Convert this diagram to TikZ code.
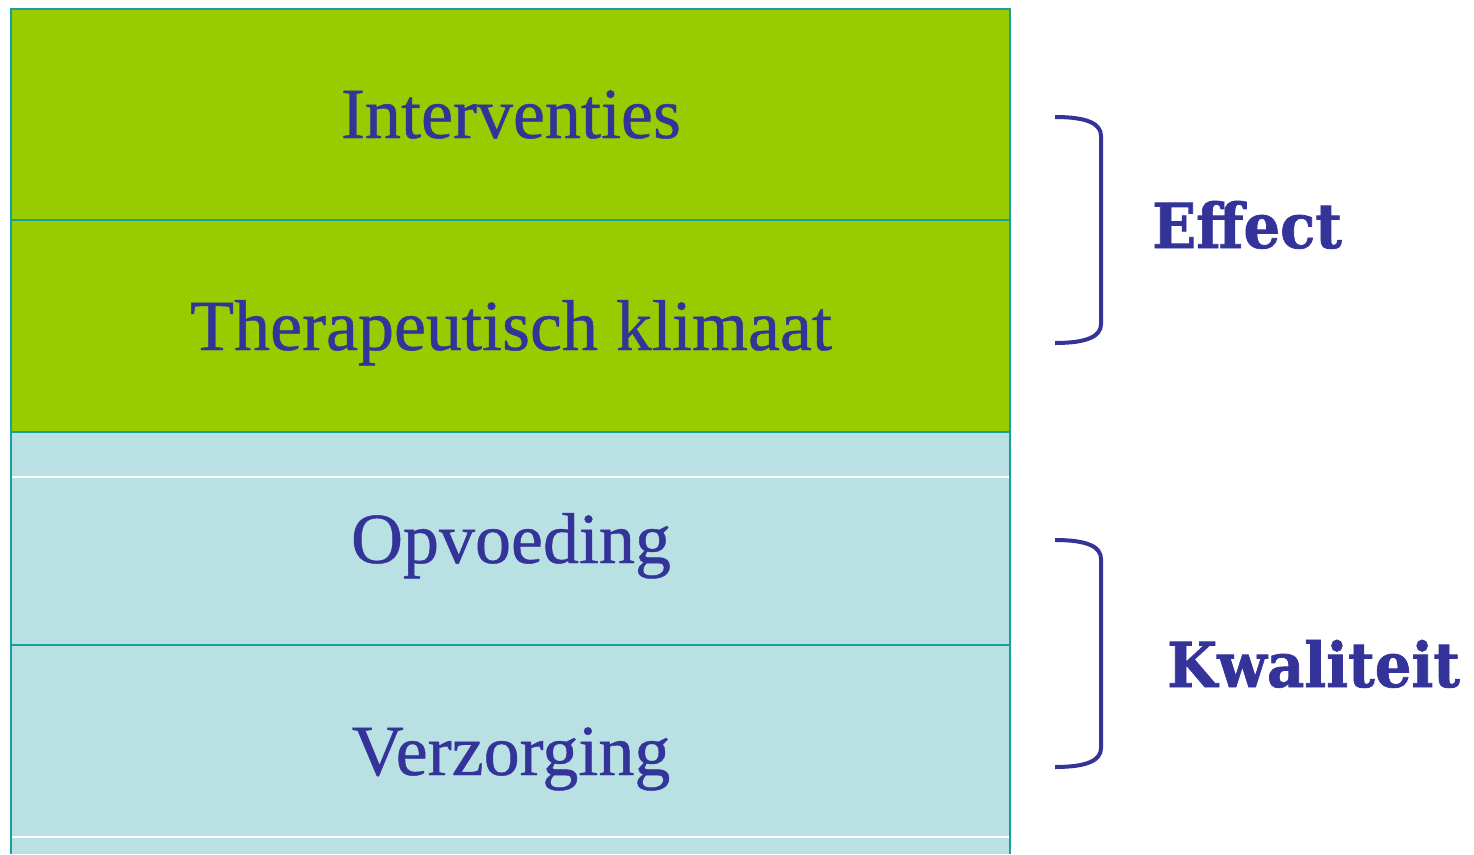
\documentclass[tikz,border=0pt]{standalone}
\usepackage{fontspec}
\setmainfont{Liberation Serif}
\newfontfamily\rowfont[FakeBold=0.6]{Liberation Serif}
\newfontfamily\labelfont[FakeBold=1.2]{DejaVu Serif Bold}
\definecolor{lgreen}{HTML}{99CC00}
\definecolor{lblue}{HTML}{B9E0E2}
\definecolor{tealb}{HTML}{1A9E9E}
\definecolor{txtblue}{HTML}{333399}
\begin{document}
\begin{tikzpicture}[x=1pt,y=-1pt,
  rowtext/.style={anchor=base,text=txtblue,font=\rowfont\fontsize{72}{80}\selectfont,inner sep=0pt},
  sidelabel/.style={anchor=base west,text=txtblue,font=\labelfont\fontsize{62}{70}\selectfont,inner sep=0pt},
  bracket/.style={draw=txtblue,line width=4pt,line cap=butt},
  divider/.style={draw=tealb,line width=2pt},
  faint/.style={draw=white,line width=1.5pt}]
\useasboundingbox (0,0) rectangle (1474,854);
\fill[white] (0,0) rectangle (1474,854);
% rows
\fill[lgreen] (10.5,8.5) rectangle (1010,432);
\fill[lblue] (10.5,432) rectangle (1010,854);
\draw[faint] (12,477) -- (1009,477);
\draw[faint] (12,837) -- (1009,837);
\draw[divider] (10.5,220) -- (1010,220);
\draw[divider] (10.5,432) -- (1010,432);
\draw[divider] (10.5,645) -- (1010,645);
\draw[divider] (10.5,854) -- (10.5,8.5) -- (1010,8.5) -- (1010,854);
% texts
\node[rowtext] (int) at (511,138) {Interventies};
\node[rowtext] (ther) at (511,350) {Therapeutisch klimaat};
\node[rowtext] (opv) at (511,563) {Opvoeding};
\node[rowtext] (verz) at (511,775) {Verzorging};
% brackets
\draw[bracket] (1055,117) .. controls (1088,117) and (1101,124) .. (1101,136) -- (1101,324) .. controls (1101,336) and (1088,343) .. (1055,343);
\draw[bracket] (1055,540) .. controls (1088,540) and (1101,547) .. (1101,559) -- (1101,748) .. controls (1101,760) and (1088,767) .. (1055,767);
\node[sidelabel] (eff) at (1152,248) {\scalebox{0.93}[1]{Effect}};
\node[sidelabel] (kwal) at (1167,687) {\scalebox{0.93}[1]{Kwaliteit}};
\end{tikzpicture}
\end{document}
